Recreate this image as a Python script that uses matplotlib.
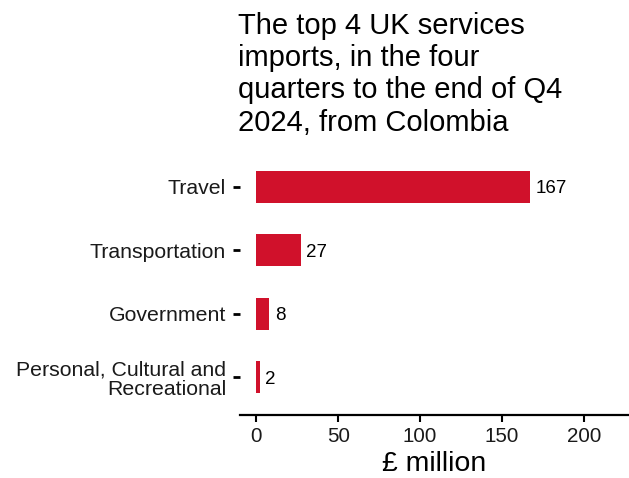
import matplotlib
matplotlib.use("Agg")
import matplotlib.pyplot as plt

categories = ["Travel", "Transportation", "Government", "Personal, Cultural and\nRecreational"]
values = [167, 27, 8, 2]
xticks = [0, 50, 100, 150, 200]
title = "The top 4 UK services\nimports, in the four\nquarters to the end of Q4\n2024, from Colombia"

plt.rcParams['font.family'] = ['Liberation Sans', 'DejaVu Sans']

fig = plt.figure(figsize=(6.29, 4.78), dpi=100)
ax = fig.add_axes([240/629, 1-415/478, 388/629, (415-149)/478])

ypos = [len(categories) - i for i in range(len(categories))]
color = '#D0112B'
ax.barh(ypos, values, height=0.5, color=color)
for y, v in zip(ypos, values):
    ax.text(v + 3.5, y, str(v), va='center_baseline', ha='left', fontsize=13.5, color='black')

ax.set_yticks(ypos)
ax.set_yticklabels(categories, fontsize=15.3, color='#1a1a1a', linespacing=1.05)
ax.set_xticks(xticks)
ax.set_xticklabels([str(t) for t in xticks], fontsize=14.8, color='#1a1a1a')
ax.set_xlim(-10, 227)
ax.set_ylim(0.4, 4.6)
ax.set_xlabel("£ million", fontsize=20.5, labelpad=3.5)

for s in ['top', 'right', 'left']:
    ax.spines[s].set_visible(False)
ax.spines['bottom'].set_linewidth(1.6)
ax.tick_params(axis='y', length=5, width=2, pad=5)
ax.tick_params(axis='x', length=5, width=1.5, pad=4)

fig.text(238/629, 1-12/478, title, ha='left', va='top', fontsize=21, linespacing=1.19)

fig.savefig("out.png", dpi=100)
